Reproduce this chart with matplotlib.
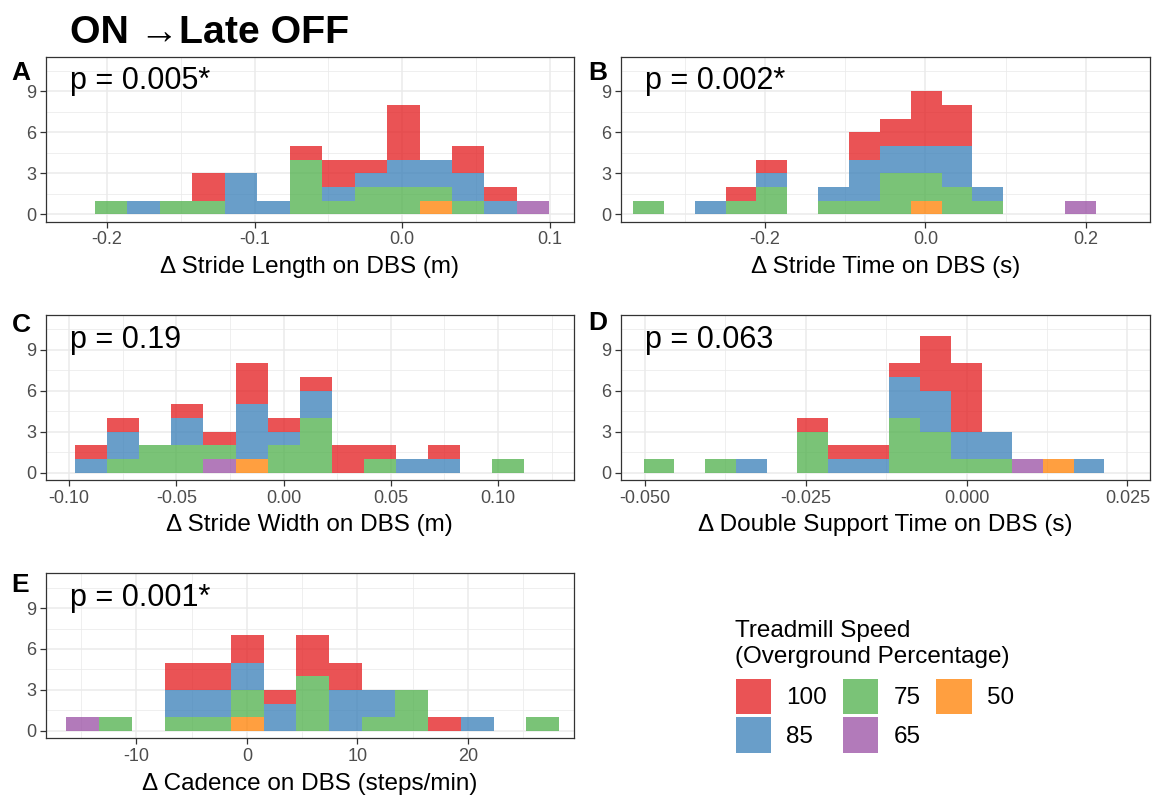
import matplotlib
matplotlib.use('Agg')
import matplotlib.pyplot as plt
from matplotlib.patches import Patch
from matplotlib.ticker import FixedLocator
import numpy as np

plt.rcParams['font.family'] = ['Liberation Sans', 'DejaVu Sans']
plt.rcParams['axes.unicode_minus'] = False

# ---------------- data ----------------
speed_levels = ['100', '85', '75', '65', '50']
speed_colors = ['#E41A1C', '#377EB8', '#4DAF4A', '#984EA3', '#FF7F00']

# Panel A: stride length (bins of the histogram)
a_bin_start = -0.2080
a_bin_width = 0.02197
a_100 = [0, 0, 0, 2, 0, 0, 1, 2, 1, 4, 0, 2, 1, 0]
a_85  = [0, 1, 0, 0, 3, 1, 0, 1, 1, 2, 2, 2, 1, 0]
a_75  = [1, 0, 1, 1, 0, 0, 4, 1, 2, 2, 1, 1, 0, 0]
a_65  = [0, 0, 0, 0, 0, 0, 0, 0, 0, 0, 0, 0, 0, 1]
a_50  = [0, 0, 0, 0, 0, 0, 0, 0, 0, 0, 1, 0, 0, 0]

# Panel B: stride time
b_bin_start = -0.3644
b_bin_width = 0.03846
b_100 = [0, 0, 0, 1, 1, 0, 0, 2, 2, 4, 3, 0, 0, 0, 0]
b_85  = [0, 0, 1, 0, 1, 0, 1, 3, 2, 2, 3, 1, 0, 0, 0]
b_75  = [1, 0, 0, 1, 2, 0, 1, 1, 3, 2, 2, 1, 0, 0, 0]
b_65  = [0, 0, 0, 0, 0, 0, 0, 0, 0, 0, 0, 0, 0, 0, 1]
b_50  = [0, 0, 0, 0, 0, 0, 0, 0, 0, 1, 0, 0, 0, 0, 0]

# Panel C: stride width
c_bin_start = -0.0971
c_bin_width = 0.01494
c_100 = [1, 1, 0, 1, 1, 3, 1, 1, 2, 1, 0, 1, 0, 0]
c_85  = [1, 2, 0, 2, 0, 4, 1, 2, 0, 0, 1, 1, 0, 0]
c_75  = [0, 1, 2, 2, 1, 0, 2, 4, 0, 1, 0, 0, 0, 1]
c_65  = [0, 0, 0, 0, 1, 0, 0, 0, 0, 0, 0, 0, 0, 0]
c_50  = [0, 0, 0, 0, 0, 1, 0, 0, 0, 0, 0, 0, 0, 0]

# Panel D: double support time
d_bin_start = -0.05017
d_bin_width = 0.004773
d_100 = [0, 0, 0, 0, 0, 1, 1, 1, 1, 4, 5, 0, 0, 0, 0]
d_85  = [0, 0, 0, 1, 0, 0, 1, 1, 3, 3, 2, 2, 0, 0, 1]
d_75  = [1, 0, 1, 0, 0, 3, 0, 0, 4, 3, 1, 1, 0, 0, 0]
d_65  = [0, 0, 0, 0, 0, 0, 0, 0, 0, 0, 0, 0, 1, 0, 0]
d_50  = [0, 0, 0, 0, 0, 0, 0, 0, 0, 0, 0, 0, 0, 1, 0]

# Panel E: cadence
e_bin_start = -16.33
e_bin_width = 2.973
e_100 = [0, 0, 0, 2, 2, 2, 1, 3, 2, 0, 0, 1, 0, 0, 0]
e_85  = [0, 0, 0, 2, 2, 2, 2, 0, 3, 2, 0, 0, 1, 0, 0]
e_75  = [0, 1, 0, 1, 1, 2, 0, 4, 0, 1, 3, 0, 0, 0, 1]
e_65  = [1, 0, 0, 0, 0, 0, 0, 0, 0, 0, 0, 0, 0, 0, 0]
e_50  = [0, 0, 0, 0, 0, 1, 0, 0, 0, 0, 0, 0, 0, 0, 0]

panel_letters = ['A', 'B', 'C', 'D', 'E']
p_texts = ['p = 0.005*', 'p = 0.002*', 'p = 0.19', 'p = 0.063', 'p = 0.001*']
x_labels = ['\u0394 Stride Length on DBS (m)', '\u0394 Stride Time on DBS (s)',
            '\u0394 Stride Width on DBS (m)', '\u0394 Double Support Time on DBS (s)',
            '\u0394 Cadence on DBS (steps/min)']
x_ticks = [[-0.2, -0.1, 0.0, 0.1], [-0.2, 0.0, 0.2],
           [-0.10, -0.05, 0.0, 0.05, 0.10], [-0.050, -0.025, 0.0, 0.025],
           [-10, 0, 10, 20]]
x_tick_labels = [['-0.2', '-0.1', '0.0', '0.1'], ['-0.2', '0.0', '0.2'],
                 ['-0.10', '-0.05', '0.00', '0.05', '0.10'],
                 ['-0.050', '-0.025', '0.000', '0.025'],
                 ['-10', '0', '10', '20']]
y_ticks = [0, 3, 6, 9]

title_text = 'ON \u2192Late OFF'
legend_title_lines = ['Treadmill Speed', '(Overground Percentage)']

panels = [
    (a_bin_start, a_bin_width, [a_100, a_85, a_75, a_65, a_50]),
    (b_bin_start, b_bin_width, [b_100, b_85, b_75, b_65, b_50]),
    (c_bin_start, c_bin_width, [c_100, c_85, c_75, c_65, c_50]),
    (d_bin_start, d_bin_width, [d_100, d_85, d_75, d_65, d_50]),
    (e_bin_start, e_bin_width, [e_100, e_85, e_75, e_65, e_50]),
]

# ---------------- layout / style ----------------
W, H = 1161, 798
fig = plt.figure(figsize=(W / 100, H / 100), dpi=100)

# axes boxes in pixels: left, top, right, bottom
boxes = [(45.7, 56.7, 574.0, 221.7), (620.7, 56.7, 1150.0, 221.7),
         (45.7, 315.0, 574.0, 480.0), (620.7, 315.0, 1150.0, 480.0),
         (45.7, 573.3, 574.0, 738.3)]
xlims = [(-0.2414, 0.1163), (-0.3797, 0.2799), (-0.1109, 0.1354),
         (-0.05374, 0.02851), (-18.21, 29.59)]
letter_pos = [(11.7, 80.0), (588.0, 80.0), (11.7, 331.5), (588.0, 330.0), (11.7, 591.6)]

grid_col = '#EBEBEB'
alpha = 0.75

for i, (start, width, groups) in enumerate(panels):
    l, t, r, b = boxes[i]
    ax = fig.add_axes([l / W, 1 - b / H, (r - l) / W, (b - t) / H])
    nb = len(groups[0])
    edges = start + width * np.arange(nb)
    # stack: last level at the bottom, first level on top
    bottom = np.zeros(nb)
    for lev in range(len(speed_levels) - 1, -1, -1):
        vals = np.array(groups[lev], dtype=float)
        ax.bar(edges, vals, width=width, bottom=bottom, align='edge',
               color=speed_colors[lev], alpha=alpha, linewidth=0)
        bottom += vals
    ax.set_xlim(*xlims[i])
    ax.set_ylim(-0.55, 11.55)
    xt = x_ticks[i]
    step = xt[1] - xt[0]
    minors = np.arange(xt[0] - step / 2, xt[-1] + step, step)
    ax.xaxis.set_major_locator(FixedLocator(xt))
    ax.set_xticklabels(x_tick_labels[i])
    ax.xaxis.set_minor_locator(FixedLocator(minors))
    ax.yaxis.set_major_locator(FixedLocator(y_ticks))
    ax.yaxis.set_minor_locator(FixedLocator([1.5, 4.5, 7.5, 10.5]))
    ax.grid(which='major', color=grid_col, linewidth=1.1)
    ax.grid(which='minor', color=grid_col, linewidth=0.55)
    ax.set_axisbelow(True)
    for s in ax.spines.values():
        s.set_color('#333333')
        s.set_linewidth(0.9)
    ax.tick_params(which='major', length=4, width=0.9, color='#333333',
                   labelsize=13, labelcolor='#4D4D4D', pad=3)
    ax.tick_params(which='minor', length=0)
    ax.set_xlabel(x_labels[i], fontsize=17.5, color='black', labelpad=5.5)
    ax.text(0.046, 0.802, p_texts[i], transform=ax.transAxes, fontsize=22,
            va='baseline', ha='left', color='black')
    lx, ly = letter_pos[i]
    fig.text(lx / W, 1 - ly / H, panel_letters[i], fontsize=19, fontweight='bold',
             va='baseline', ha='left')

fig.text(70 / W, 1 - 43.3 / H, title_text, fontsize=28.3, fontweight='bold',
         va='baseline', ha='left')

# legend title (two lines) and legend entries
fig.text(735 / W, 1 - 636.7 / H, legend_title_lines[0], fontsize=17.5,
         va='baseline', ha='left')
fig.text(735 / W, 1 - 663.0 / H, legend_title_lines[1], fontsize=17.5,
         va='baseline', ha='left')
handles = [Patch(facecolor=c, alpha=alpha, edgecolor='none') for c in speed_colors]
leg = fig.legend(handles, speed_levels, ncol=3, loc='upper left',
                 bbox_to_anchor=(735.7 / W, 1 - 679 / H), frameon=False,
                 fontsize=17.5, handlelength=1.453, handleheight=1.858,
                 handletextpad=0.62, columnspacing=0.66, labelspacing=0.123,
                 borderpad=0, borderaxespad=0)

fig.savefig('out.png', dpi=100)
